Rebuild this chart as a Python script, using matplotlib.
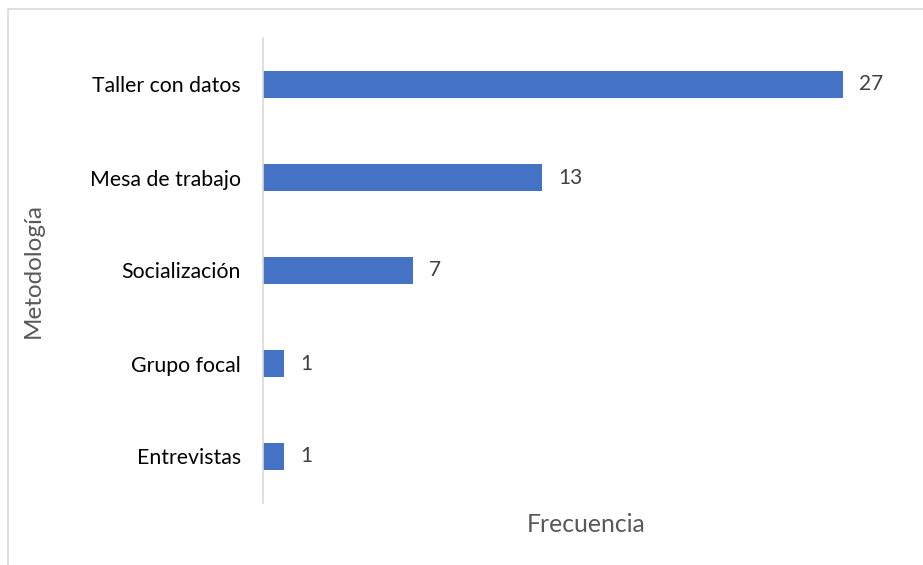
import matplotlib
matplotlib.use("Agg")
import matplotlib.pyplot as plt
from matplotlib.patches import Rectangle

# data
categorias = ["Entrevistas", "Grupo focal", "Socialización", "Mesa de trabajo", "Taller con datos"]
frecuencia = [1, 1, 7, 13, 27]

azul = "#4472C4"
gris = "#595959"

plt.rcParams['font.family'] = ['Lato', 'DejaVu Sans']

fig = plt.figure(figsize=(9.23, 5.65), dpi=100)
ax = fig.add_axes([263/923, 1 - 503/565, 644/923, 465/565])

pos = list(range(len(categorias)))
ax.barh(pos, frecuencia, height=0.30, color=azul)
for p, v in zip(pos, frecuencia):
    ax.text(v + 0.75, p, str(v), va='center', ha='left', fontsize=15, color="#404040")

ax.set_xlim(0, 30)
ax.set_ylim(-0.5, len(categorias) - 0.5)
ax.set_yticks(pos)
ax.set_yticklabels(categorias, fontsize=15.3, color="black")
ax.tick_params(axis='y', length=0, pad=16)
ax.set_xticks([])

for s in ['top', 'right', 'bottom']:
    ax.spines[s].set_visible(False)
ax.spines['left'].set_color("#D9D9D9")
ax.spines['left'].set_linewidth(1.2)

fig.text(586/923, 1 - 524/565, "Frecuencia", ha='center', va='center', fontsize=17.8, color=gris)
fig.text(33/923, 1 - 270/565, "Metodología", ha='center', va='center', rotation=90, fontsize=17.5, color=gris)

# chart border (only top and left visible)
fig.patches.append(Rectangle((8/923, -0.1), 1.2, (1 - 9/565) + 0.1, transform=fig.transFigure,
                             fill=False, edgecolor="#D9D9D9", linewidth=1.2))

fig.savefig("out.png", dpi=100)
